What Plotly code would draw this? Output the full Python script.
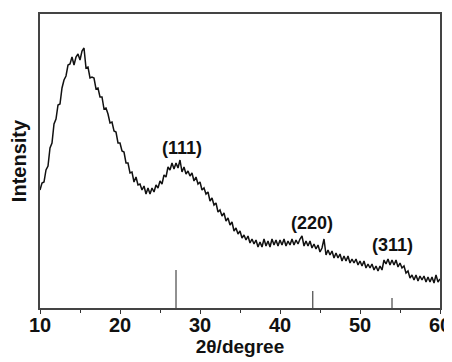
import plotly.graph_objects as go

# 2-theta sampling grid (degrees), 0.25 deg step from 10 to 60
two_theta = [10 + 0.25 * i for i in range(201)]

# Intensity (arbitrary units)
intensity = [
    118, 125, 126, 138, 142, 160, 165, 184, 189, 203,
    204, 220, 228, 232, 243, 244, 251, 243, 251, 254,
    248, 257, 260, 240, 241, 230, 231, 230, 219, 220,
    211, 211, 199, 200, 194, 185, 186, 177, 176, 165,
    165, 157, 156, 145, 145, 135, 136, 126, 131, 123,
    124, 118, 122, 114, 120, 114, 120, 116, 123, 120,
    127, 124, 133, 131, 141, 138, 145, 139, 145, 140,
    148, 136, 141, 134, 137, 132, 135, 127, 131, 124,
    126, 118, 120, 114, 116, 107, 110, 103, 105, 96,
    98, 92, 95, 87, 90, 83, 86, 77, 80, 74,
    77, 70, 73, 68, 72, 65, 69, 64, 68, 61,
    66, 61, 69, 62, 67, 61, 69, 63, 68, 62,
    68, 63, 69, 62, 67, 63, 69, 63, 68, 64,
    69, 72, 62, 67, 62, 67, 60, 64, 59, 63,
    56, 60, 69, 53, 58, 53, 57, 50, 55, 50,
    54, 47, 52, 47, 52, 45, 49, 45, 49, 43,
    47, 42, 47, 40, 44, 40, 44, 38, 42, 37,
    42, 38, 48, 44, 49, 43, 48, 43, 48, 41,
    45, 40, 42, 35, 37, 30, 33, 28, 33, 27,
    32, 28, 32, 26, 31, 26, 31, 25, 33, 26,
    29,
]

# Reference (standard) diffraction lines
ref_pos = [27.0, 44.1, 54.0]
ref_height = [38, 17, 10]

# Peak labels
peak_labels = ["(111)", "(220)", "(311)"]
peak_label_x = [27.7, 44.0, 54.1]
peak_label_y = [160, 85, 63]

FONT = "Liberation Sans, Arial, sans-serif"

fig = go.Figure()

fig.add_trace(go.Scatter(
    x=two_theta, y=intensity, mode="lines",
    line=dict(color="#111111", width=1.5),
    showlegend=False, hoverinfo="skip",
))

for xp, h in zip(ref_pos, ref_height):
    fig.add_trace(go.Scatter(
        x=[xp, xp], y=[0, h], mode="lines",
        line=dict(color="#222222", width=1),
        showlegend=False, hoverinfo="skip",
    ))

for t, xl, yl in zip(peak_labels, peak_label_x, peak_label_y):
    fig.add_annotation(
        x=xl, y=yl, text=f"<b>{t}</b>", showarrow=False,
        font=dict(family=FONT, size=18, color="#111111"),
    )

# page body has an 8px default margin; figure is sized to fill the 452x362 window
fig.update_layout(
    width=444, height=354,
    margin=dict(l=32, r=12, t=6, b=54),
    plot_bgcolor="white", paper_bgcolor="white",
    font=dict(family=FONT, color="#111111"),
    xaxis=dict(
        range=[10, 60], tickvals=[10, 20, 30, 40, 50, 60],
        ticks="outside", ticklen=4, tickwidth=1.2, tickcolor="#333333",
        ticklabelstandoff=-6,
        minor=dict(tickvals=[15, 25, 35, 45, 55], ticks="outside", ticklen=3, tickcolor="#333333"),
        showline=True, linecolor="#444444", linewidth=1.5, mirror=True,
        showgrid=False, zeroline=False, automargin=False,
        tickfont=dict(size=20, family=FONT, weight="bold"),
        title=dict(text="<b>2θ/degree</b>", font=dict(size=19), standoff=4),
    ),
    yaxis=dict(
        range=[0, 294], showticklabels=False, ticks="",
        showline=True, linecolor="#444444", linewidth=1.5, mirror=True,
        showgrid=False, zeroline=False, automargin=False,
        title=dict(text="<b>Intensity</b>", font=dict(size=20), standoff=10),
    ),
)

fig.write_html("out.html")
